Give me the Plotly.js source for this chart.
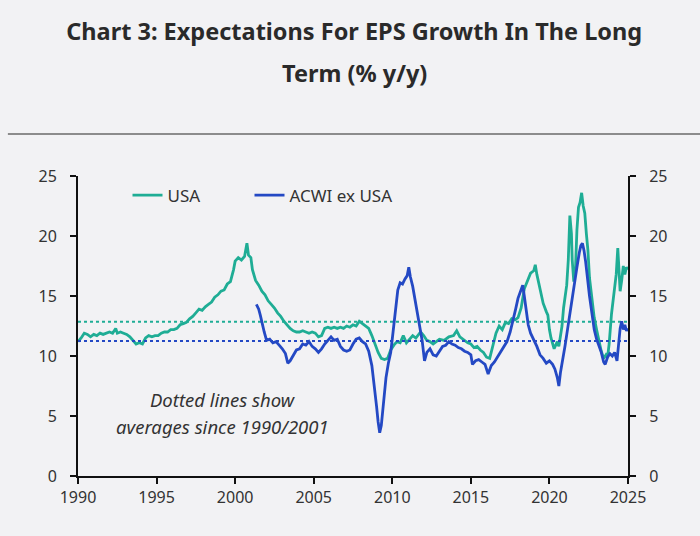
<!DOCTYPE html>
<html>
<head>
<meta charset="utf-8">
<script src="https://cdn.plot.ly/plotly-3.0.1.min.js"></script>
<style>
  html, body { margin: 0; padding: 0; background: #f2f2f4; }
  #chart { width: 700px; height: 536px; }
</style>
</head>
<body>
<div id="chart"></div>
<script>
// ---- Data ----
const usaYears = [1990.0,1990.2,1990.4,1990.6,1990.8,1991.0,1991.2,1991.4,1991.6,1991.8,1992.0,1992.2,1992.4,1992.5,1992.7,1992.9,1993.1,1993.3,1993.5,1993.7,1993.9,1994.1,1994.3,1994.5,1994.7,1994.9,1995.1,1995.3,1995.5,1995.7,1995.9,1996.1,1996.3,1996.5,1996.7,1996.9,1997.1,1997.3,1997.5,1997.7,1997.9,1998.1,1998.3,1998.5,1998.7,1998.9,1999.1,1999.3,1999.5,1999.7,1999.9,2000.0,2000.2,2000.4,2000.6,2000.75,2000.85,2001.0,2001.1,2001.3,2001.5,2001.7,2001.9,2002.1,2002.3,2002.5,2002.7,2002.9,2003.1,2003.3,2003.5,2003.7,2003.9,2004.1,2004.3,2004.5,2004.7,2004.9,2005.1,2005.3,2005.5,2005.7,2005.9,2006.1,2006.3,2006.5,2006.7,2006.9,2007.1,2007.3,2007.5,2007.7,2007.9,2008.1,2008.3,2008.5,2008.7,2008.9,2009.1,2009.3,2009.5,2009.7,2009.9,2010.1,2010.3,2010.5,2010.7,2010.9,2011.1,2011.3,2011.5,2011.8,2012.0,2012.2,2012.4,2012.6,2012.8,2013.0,2013.3,2013.6,2013.9,2014.1,2014.3,2014.5,2014.8,2015.0,2015.2,2015.4,2015.6,2015.8,2016.0,2016.2,2016.4,2016.6,2016.8,2017.0,2017.2,2017.4,2017.6,2017.8,2018.0,2018.2,2018.4,2018.6,2018.8,2019.0,2019.1,2019.2,2019.3,2019.5,2019.6,2019.8,2019.9,2020.0,2020.1,2020.3,2020.5,2020.6,2020.8,2020.9,2021.0,2021.1,2021.2,2021.3,2021.4,2021.45,2021.55,2021.65,2021.75,2021.85,2021.95,2022.05,2022.15,2022.25,2022.35,2022.45,2022.55,2022.7,2022.85,2023.0,2023.15,2023.3,2023.45,2023.6,2023.7,2023.8,2023.95,2024.05,2024.15,2024.25,2024.35,2024.45,2024.5,2024.6,2024.7,2024.8,2024.9,2025.0];
const usaValues = [11.2,11.5,11.9,11.8,11.6,11.8,11.7,11.9,11.8,11.9,12.0,11.9,12.3,11.9,12.0,11.9,11.8,11.6,11.3,11.0,11.1,11.0,11.5,11.7,11.6,11.7,11.7,11.9,12.0,12.0,12.2,12.2,12.3,12.6,12.7,12.8,13.1,13.3,13.6,13.9,13.8,14.1,14.3,14.5,14.9,15.1,15.4,15.5,16.0,16.2,17.2,17.9,18.2,18.0,18.3,19.4,18.4,18.2,17.2,16.3,15.9,15.4,15.1,14.6,14.3,14.0,13.6,13.3,12.9,12.6,12.3,12.1,12.0,12.0,12.1,12.0,11.9,12.0,11.9,11.6,11.7,12.3,12.4,12.3,12.4,12.3,12.4,12.3,12.5,12.4,12.6,12.5,12.9,12.7,12.5,12.3,11.7,11.0,10.3,9.8,9.7,9.8,10.5,10.9,11.2,11.1,11.7,11.1,11.4,11.7,11.5,12.0,11.7,11.3,11.2,11.0,11.2,11.4,11.3,11.6,11.7,12.1,11.6,11.4,11.1,11.0,10.7,10.8,10.5,10.3,9.9,9.8,10.9,11.9,12.5,12.2,12.8,12.7,13.1,13.0,13.2,14.0,15.6,16.3,16.9,17.1,17.6,16.8,16.2,15.0,14.4,13.7,13.4,12.2,11.5,10.6,11.2,10.8,12.5,14.0,15.0,15.9,18.0,21.7,20.2,18.0,16.2,17.0,20.5,22.4,22.8,23.6,22.5,21.9,20.2,18.8,16.5,15.0,13.2,12.2,11.3,10.4,9.8,10.1,9.9,11.0,13.5,14.6,15.5,16.8,19.0,16.2,15.4,16.3,17.5,16.8,17.4,17.2];

const acwiYears = [2001.35,2001.5,2001.6,2001.7,2001.85,2002.0,2002.2,2002.4,2002.6,2002.8,2003.0,2003.2,2003.35,2003.5,2003.7,2003.9,2004.1,2004.3,2004.5,2004.7,2004.9,2005.1,2005.3,2005.5,2005.7,2005.9,2006.1,2006.3,2006.5,2006.7,2006.9,2007.1,2007.3,2007.5,2007.7,2007.9,2008.1,2008.3,2008.5,2008.7,2008.85,2009.0,2009.1,2009.2,2009.3,2009.45,2009.6,2009.75,2009.9,2010.05,2010.2,2010.35,2010.5,2010.65,2010.8,2010.95,2011.05,2011.15,2011.3,2011.45,2011.6,2011.75,2011.9,2012.05,2012.2,2012.4,2012.6,2012.8,2013.0,2013.2,2013.4,2013.6,2013.8,2014.0,2014.2,2014.4,2014.6,2014.8,2015.0,2015.1,2015.3,2015.5,2015.7,2015.9,2016.1,2016.3,2016.5,2016.7,2016.9,2017.1,2017.3,2017.5,2017.7,2017.85,2018.0,2018.15,2018.3,2018.4,2018.5,2018.65,2018.8,2019.0,2019.2,2019.4,2019.6,2019.8,2020.0,2020.2,2020.35,2020.5,2020.6,2020.7,2020.85,2021.0,2021.15,2021.3,2021.45,2021.6,2021.75,2021.9,2022.0,2022.1,2022.2,2022.3,2022.4,2022.55,2022.7,2022.85,2023.0,2023.15,2023.3,2023.45,2023.55,2023.7,2023.85,2024.0,2024.15,2024.3,2024.4,2024.5,2024.6,2024.7,2024.8,2024.9,2025.0];
const acwiValues = [14.3,13.9,13.4,12.8,12.0,11.3,11.4,11.1,11.2,10.9,10.6,10.2,9.4,9.6,10.0,10.5,10.6,11.0,10.9,11.2,10.8,10.6,10.3,10.6,11.0,11.3,11.6,11.3,11.4,10.8,10.5,10.4,10.5,11.0,11.4,11.5,11.2,11.0,10.4,9.2,7.7,5.8,4.5,3.6,4.2,6.5,8.2,9.4,10.3,12.0,14.0,15.5,16.1,16.0,16.4,16.7,17.4,16.6,15.8,14.6,13.6,12.3,11.3,9.6,10.3,10.6,10.1,10.0,10.4,10.8,10.9,11.2,11.0,10.9,10.7,10.6,10.4,10.3,10.1,9.3,9.6,9.7,9.5,9.3,8.5,9.2,9.5,9.9,10.4,10.7,11.2,12.0,13.0,13.9,14.8,15.4,15.9,15.0,14.1,12.6,11.9,11.4,10.8,10.1,9.8,9.4,9.6,9.3,8.9,8.2,7.5,8.6,9.6,10.9,12.2,13.6,14.9,16.0,17.4,18.6,19.2,19.4,18.8,17.9,16.6,15.0,13.6,12.2,11.4,10.9,10.3,9.5,9.3,9.9,10.2,10.0,10.3,9.6,11.2,12.3,12.9,12.2,12.6,12.1,12.3];

// averages shown as dotted lines (USA since 1990, ACWI ex USA since 2001)
const avgUSA = 12.85;
const avgACWI = 11.25;
const avgSpan = [1990, 2025];

const seriesNames = ["USA", "ACWI ex USA"];
const xTicks = [1990, 1995, 2000, 2005, 2010, 2015, 2020, 2025];
const yTicks = [0, 5, 10, 15, 20, 25];

// ---- Styling ----
const TEAL = "#1fad95";
const BLUE = "#2449c4";
const BG = "#f2f2f4";
const FONT = "Noto Sans, Open Sans, sans-serif";
const TXT = "#333333";

const traces = [
  { x: avgSpan, y: [avgUSA, avgUSA], mode: "lines", showlegend: false, hoverinfo: "skip",
    line: { color: TEAL, width: 2, dash: "dot" } },
  { x: avgSpan, y: [avgACWI, avgACWI], mode: "lines", showlegend: false, hoverinfo: "skip",
    yaxis: "y2", line: { color: BLUE, width: 2, dash: "dot" } },
  { x: usaYears, y: usaValues, name: seriesNames[0], mode: "lines", legend: "legend",
    line: { color: TEAL, width: 2.8 } },
  { x: acwiYears, y: acwiValues, name: seriesNames[1], mode: "lines", legend: "legend2",
    line: { color: BLUE, width: 2.8 } }
];

const axisCommon = {
  showgrid: false, zeroline: false, showline: true, linecolor: "#111", linewidth: 2,
  ticks: "outside", ticklen: 6, tickwidth: 2, tickcolor: "#111",
  tickfont: { family: FONT, size: 16, color: TXT }
};

const legendCommon = {
  orientation: "h", y: 0.995, xanchor: "left", yanchor: "top",
  bgcolor: "rgba(0,0,0,0)", font: { family: FONT, size: 17, color: TXT }
};

const layout = {
  width: 700, height: 536,
  paper_bgcolor: BG, plot_bgcolor: BG,
  margin: { l: 78, r: 72, t: 176, b: 60 },
  font: { family: FONT, color: TXT },
  title: {
    text: "<b>Chart 3: Expectations For EPS Growth In The Long</b>",
    font: { family: FONT, size: 23.5, color: "#2a2a2a" },
    x: 0.506, xref: "container", xanchor: "center",
    y: 1 - 32 / 536, yref: "container", yanchor: "middle"
  },
  xaxis: Object.assign({}, axisCommon, {
    range: [1990, 2025], tickvals: xTicks, ticktext: xTicks.map(String)
  }),
  yaxis: Object.assign({}, axisCommon, {
    range: [0, 25], tickvals: yTicks, ticklabelstandoff: 10
  }),
  yaxis2: Object.assign({}, axisCommon, {
    range: [0, 25], tickvals: yTicks, overlaying: "y", side: "right",
    ticklabelstandoff: 10
  }),
  legend: Object.assign({}, legendCommon, { x: 0.09 }),
  legend2: Object.assign({}, legendCommon, { x: 0.09 + 122 / 550 }),
  annotations: [
    { text: "<b>Term (% y/y)</b>", xref: "paper", yref: "paper", x: 0.502, y: (476 - 73) / 300,
      showarrow: false, xanchor: "center", yanchor: "middle",
      font: { family: FONT, size: 23.5, color: "#2a2a2a" } },
    { text: "<i>Dotted lines show</i>", x: 1999.2, y: 6.35, xref: "x", yref: "y",
      showarrow: false, xanchor: "center", yanchor: "middle",
      font: { family: FONT, size: 18.5, color: TXT } },
    { text: "<i>averages since 1990/2001</i>", x: 1999.2, y: 4.1, xref: "x", yref: "y",
      showarrow: false, xanchor: "center", yanchor: "middle",
      font: { family: FONT, size: 18.5, color: TXT } }
  ],
  shapes: [
    { type: "line", xref: "paper", yref: "paper", x0: -0.1275, x1: 1.135,
      y0: (476 - 134) / 300, y1: (476 - 134) / 300,
      line: { color: "#8c8c8c", width: 2 } }
  ]
};

Plotly.newPlot("chart", traces, layout, { displayModeBar: false, staticPlot: true });
</script>
</body>
</html>
